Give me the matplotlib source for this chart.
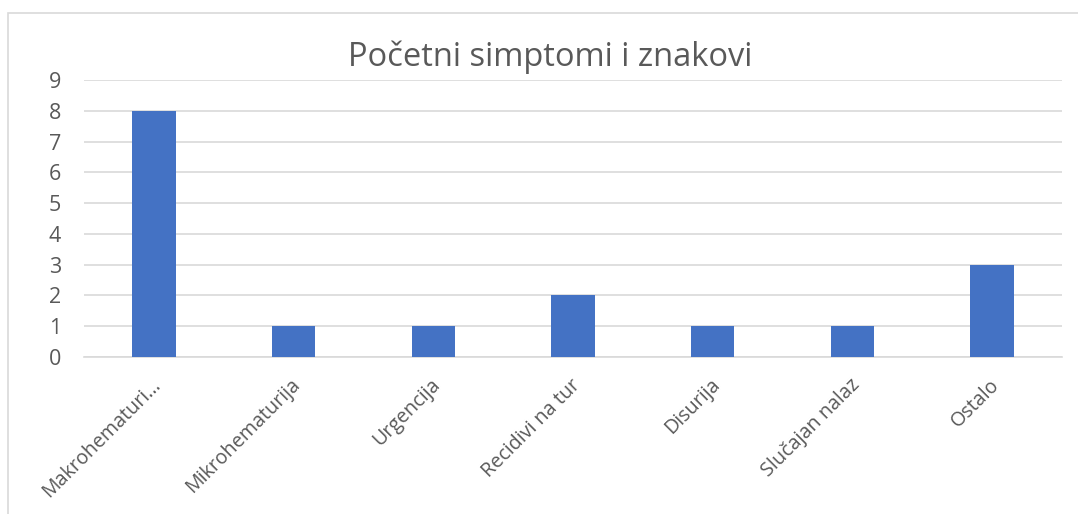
import matplotlib.pyplot as plt
import matplotlib.transforms as mtransforms
import numpy as np

categories = ["Makrohematuri…", "Mikrohematurija", "Urgencija", "Recidivi na tur",
              "Disurija", "Slučajan nalaz", "Ostalo"]
values = [8, 1, 1, 2, 1, 1, 3]
yticks = list(range(0, 10))

plt.rcParams['font.family'] = ['Open Sans', 'DejaVu Sans']

fig = plt.figure(figsize=(10.78, 5.14), dpi=100)
# outer chart border (light gray)
fig.patches.append(plt.Rectangle((8 / 1078, -0.05), 1.2, 1 - 13 / 514 + 0.05,
                                 transform=fig.transFigure, fill=False,
                                 edgecolor='#D9D9D9', linewidth=1.2))

ax = fig.add_axes([84 / 1078, 1 - 357 / 514, (1062 - 84) / 1078, (357 - 80) / 514])
x = np.arange(len(categories))
ax.bar(x, values, width=0.31, color='#4472C4', zorder=3)

ax.set_xlim(-0.5, len(categories) - 0.5)
ax.set_ylim(0, 9)
ax.set_yticks(yticks)
ax.grid(axis='y', color='#D9D9D9', linewidth=1.2, zorder=0)
for s in ['top', 'right', 'left']:
    ax.spines[s].set_visible(False)
ax.spines['bottom'].set_color('#D9D9D9')
ax.spines['bottom'].set_linewidth(1.2)
ax.tick_params(axis='both', length=0, colors='#595959')
ax.tick_params(axis='y', pad=16.5, labelsize=15.5)
ax.set_xticks(x)
ax.set_xticklabels(categories, rotation=45, ha='right', rotation_mode='anchor')
ax.tick_params(axis='x', pad=13, labelsize=14.2)
shift = mtransforms.ScaledTranslation(-3 / 100, 0, fig.dpi_scale_trans)
for lbl in ax.get_xticklabels():
    lbl.set_transform(lbl.get_transform() + shift)

fig.text(550 / 1078, 1 - 57 / 514, "Početni simptomi i znakovi", ha='center', va='center',
         fontsize=23.5, color='#595959')

fig.savefig("out.png", dpi=100)
